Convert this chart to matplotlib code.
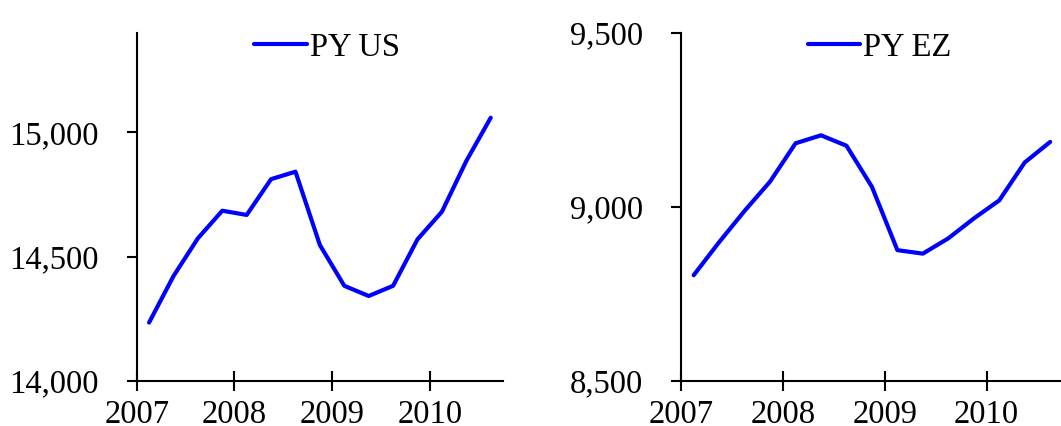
import matplotlib
matplotlib.use("Agg")
import matplotlib.pyplot as plt
from matplotlib.ticker import FuncFormatter

quarters = ["2007Q1", "2007Q2", "2007Q3", "2007Q4",
            "2008Q1", "2008Q2", "2008Q3", "2008Q4",
            "2009Q1", "2009Q2", "2009Q3", "2009Q4",
            "2010Q1", "2010Q2", "2010Q3"]
py_us = [14235, 14422, 14574, 14685, 14668, 14812, 14842, 14547,
         14383, 14342, 14383, 14570, 14681, 14885, 15059]
py_ez = [8804, 8899, 8989, 9073, 9183, 9206, 9176, 9058,
         8876, 8866, 8910, 8967, 9019, 9128, 9187]
year_ticks = [2007, 2008, 2009, 2010]

# mid-quarter positions on a year axis
x = [int(q[:4]) + (int(q[5]) - 0.5) / 4 for q in quarters]

plt.rcParams['font.family'] = ['Liberation Serif', 'DejaVu Serif']
plt.rcParams['font.size'] = 23.5

fig = plt.figure(figsize=(10.61, 4.26), dpi=100)

panels = [
    ([0.129, 0.1056, 0.345, 0.817], py_us, "PY US", (14000, 15400), [14000, 14500, 15000]),
    ([0.6418, 0.1056, 0.360, 0.817], py_ez, "PY EZ", (8500, 9500), [8500, 9000, 9500]),
]

for pos, vals, name, ylim, yt in panels:
    ax = fig.add_axes(pos)
    ax.plot(x, vals, color="#0000ff", lw=3, label=name, solid_capstyle="round")
    ax.set_xlim(2007, 2010.75)
    ax.set_ylim(*ylim)
    ax.set_xticks(year_ticks)
    ax.set_yticks(yt)
    ax.yaxis.set_major_formatter(FuncFormatter(lambda v, p: f"{int(v):,}"))
    for s in ["top", "right"]:
        ax.spines[s].set_visible(False)
    for s in ["left", "bottom"]:
        ax.spines[s].set_linewidth(1.5)
    ax.tick_params(axis="x", direction="inout", length=15, width=1.5, pad=6)
    ax.tick_params(axis="y", direction="out", length=7.5, width=1.5, pad=20)
    ax.legend(loc="upper center", bbox_to_anchor=(0.52, 1.04), frameon=False,
              handlelength=1.6, handletextpad=0.1, borderaxespad=0)

fig.savefig("out.png", dpi=100)
